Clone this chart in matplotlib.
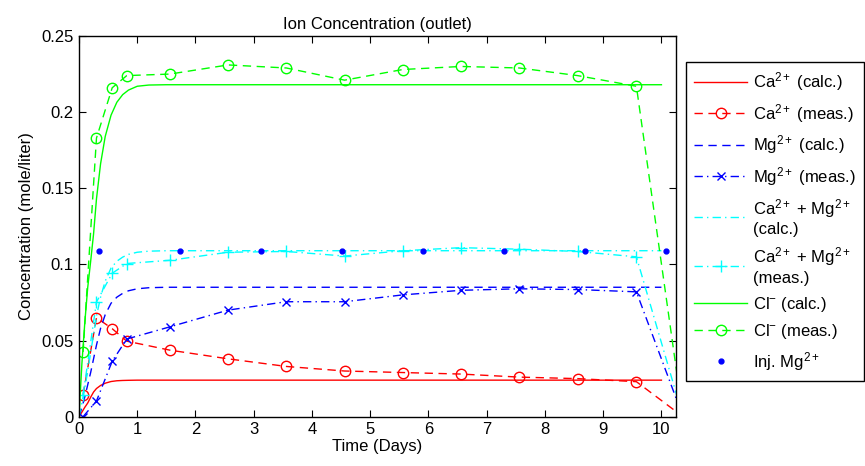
import matplotlib
matplotlib.use("Agg")
import matplotlib.pyplot as plt

plt.rcParams['font.family'] = ['Liberation Sans', 'DejaVu Sans']
plt.rcParams['mathtext.fontset'] = 'custom'
plt.rcParams['mathtext.rm'] = 'Liberation Sans'
plt.rcParams['mathtext.it'] = 'Liberation Sans'
plt.rcParams['lines.dashed_pattern'] = [6.0, 4.0]
plt.rcParams['lines.dashdot_pattern'] = [6.0, 3.0, 1.0, 3.0]
plt.rcParams['lines.scale_dashes'] = False

# ---- data ----
# measurement times (days)
t_meas = [0.07, 0.30, 0.57, 0.82, 1.56, 2.56, 3.56, 4.56, 5.56, 6.56, 7.56, 8.56, 9.57, 10.37]
ca_meas = [0.0144, 0.065, 0.0578, 0.0496, 0.0437, 0.038, 0.033, 0.030, 0.029, 0.028, 0.026, 0.025, 0.023, 0.0]
mg_meas = [0.0, 0.0103, 0.0364, 0.051, 0.059, 0.070, 0.0755, 0.0755, 0.080, 0.083, 0.084, 0.0835, 0.082, 0.0]
camg_meas = [0.0144, 0.0753, 0.0942, 0.1006, 0.1027, 0.108, 0.1085, 0.1055, 0.109, 0.111, 0.110, 0.1085, 0.105, 0.0]
cl_meas = [0.0425, 0.183, 0.216, 0.224, 0.225, 0.231, 0.229, 0.221, 0.228, 0.230, 0.229, 0.224, 0.217, 0.0]

# calculated curves
t_calc = [0.0, 0.05, 0.1, 0.15, 0.2, 0.25, 0.3, 0.37, 0.45, 0.55, 0.65, 0.75, 0.85, 1.0, 1.2, 1.5, 2.0, 10.0]
ca_calc = [0.0, 0.003, 0.0062, 0.009, 0.0128, 0.0162, 0.0185, 0.0205, 0.022, 0.0231, 0.0236, 0.0238, 0.0239, 0.024, 0.024, 0.024, 0.024, 0.024]
mg_calc = [0.0, 0.006, 0.013, 0.021, 0.029, 0.038, 0.047, 0.058, 0.067, 0.0745, 0.0785, 0.081, 0.0827, 0.0840, 0.0847, 0.085, 0.085, 0.085]
camg_calc = [0.0, 0.009, 0.019, 0.030, 0.042, 0.054, 0.066, 0.0785, 0.089, 0.0976, 0.1021, 0.1048, 0.1066, 0.108, 0.1087, 0.109, 0.109, 0.109]
cl_calc = [0.0, 0.035, 0.062, 0.085, 0.102, 0.120, 0.143, 0.166, 0.184, 0.198, 0.2065, 0.2115, 0.2145, 0.217, 0.2178, 0.218, 0.218, 0.218]

# injected Mg2+
t_inj = [0.34, 1.73, 3.12, 4.51, 5.90, 7.29, 8.68, 10.07]
mg_inj = [0.109, 0.109, 0.109, 0.109, 0.109, 0.109, 0.109, 0.109]

# ---- plot ----
fig = plt.figure(figsize=(8.65, 4.66), dpi=100)
ax = fig.add_axes([79/865, 1-416.7/466, (676-79)/865, (416.7-36)/466])

lw = 1.0
ms = 7.5
ax.plot(t_calc, ca_calc, '-', color='#FF0000', lw=lw, label='Ca$^{2+}$ (calc.)')
ax.plot(t_meas, ca_meas, '--', color='#FF0000', lw=lw, marker='o', ms=ms, mfc='none', mew=1.0,
        label='Ca$^{2+}$ (meas.)')
ax.plot(t_calc, mg_calc, '--', color='#0000FF', lw=lw, label='Mg$^{2+}$ (calc.)')
ax.plot(t_meas, mg_meas, '-.', color='#0000FF', lw=lw, marker='x', ms=6, mew=1.0,
        label='Mg$^{2+}$ (meas.)')
ax.plot(t_calc, camg_calc, '-.', color='#00FFFF', lw=lw, label='Ca$^{2+}$ + Mg$^{2+}$\n(calc.)')
ax.plot(t_meas, camg_meas, '-.', color='#00FFFF', lw=lw, marker='+', ms=9, mew=1.0,
        label='Ca$^{2+}$ + Mg$^{2+}$\n(meas.)')
ax.plot(t_calc, cl_calc, '-', color='#00FF00', lw=lw, label='Cl$^{-}$ (calc.)')
ax.plot(t_meas, cl_meas, '--', color='#00FF00', lw=lw, marker='o', ms=ms, mfc='none', mew=1.0,
        label='Cl$^{-}$ (meas.)')
ax.plot(t_inj, mg_inj, '.', color='#0000FF', ms=7, label='Inj. Mg$^{2+}$')

ax.set_xlim(0, 10.25)
ax.set_ylim(0, 0.25)
ax.set_xticks(range(0, 11))
ax.set_yticks([0, 0.05, 0.1, 0.15, 0.2, 0.25])
ax.set_yticklabels(['0', '0.05', '0.1', '0.15', '0.2', '0.25'])
ax.tick_params(direction='in', top=True, right=True, labelsize=12, length=5, width=0.8, pad=4)
for s in ax.spines.values():
    s.set_linewidth(1.0)

ax.set_xlabel('Time (Days)', fontsize=12, labelpad=1)
ax.set_ylabel('Concentration (mole/liter)', fontsize=12, labelpad=5)
ax.set_title('Ion Concentration (outlet)', fontsize=12, pad=5)

leg = fig.legend(loc='upper left', bbox_to_anchor=(686/865, 1-62/466), fontsize=12,
                 handlelength=3.15, labelspacing=0.52, borderaxespad=0, fancybox=False,
                 edgecolor='black', framealpha=1, borderpad=0.5, handletextpad=0.35)
leg.get_frame().set_linewidth(1.0)

fig.savefig('out.png', dpi=100)
